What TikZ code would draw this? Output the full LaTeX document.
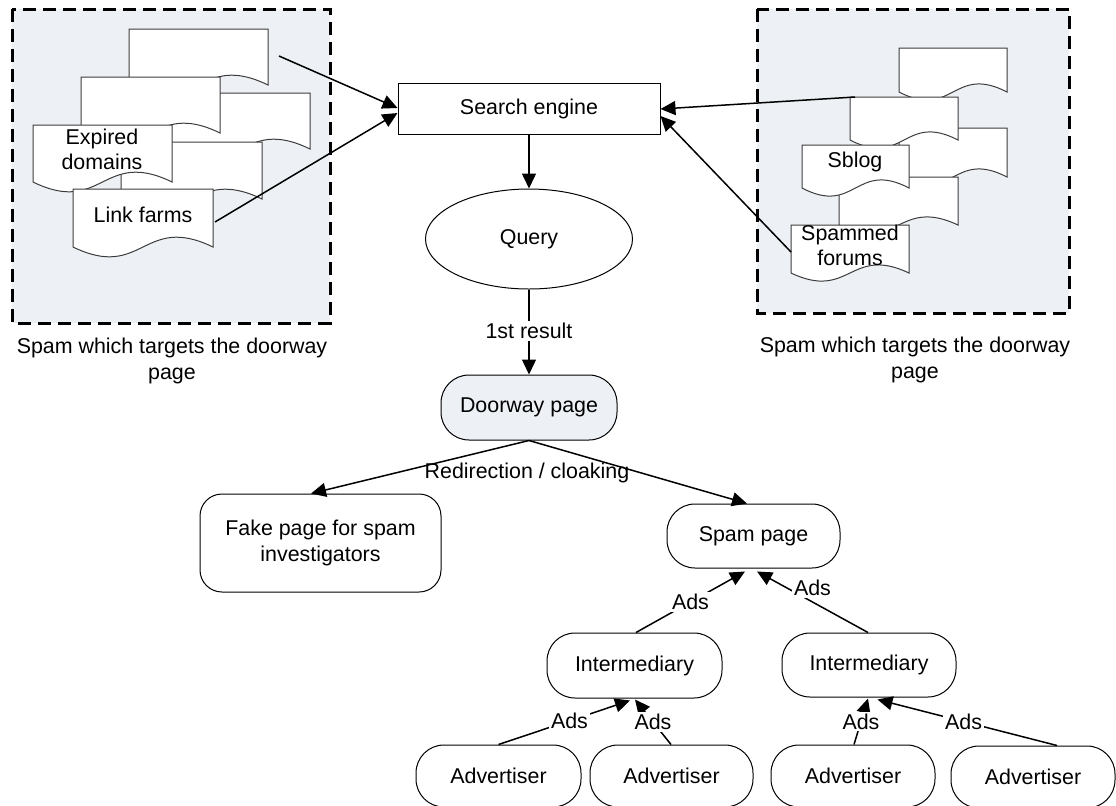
\documentclass[tikz,border=0pt]{standalone}
\usepackage{fontspec}
\setmainfont{Liberation Sans}
\usetikzlibrary{arrows.meta,calc,shapes.geometric}
\definecolor{panelfill}{RGB}{237,240,245}
\definecolor{docedge}{RGB}{60,60,60}
\tikzset{
  every node/.style={font=\fontsize{10.7}{12.6}\selectfont},
  arr/.style={line width=0.75pt, -{Triangle[length=7.5pt,width=7pt]}},
  panel/.style={draw, line width=1.5pt, dash pattern=on 6.5pt off 3.5pt, fill=panelfill},
  docline/.style={draw=docedge, line width=0.5pt, fill=white},
  docarea/.style={inner sep=0pt, outer sep=0pt},
  doctext/.style={align=center, inner sep=0pt},
  plainbox/.style={draw, line width=0.5pt, fill=white, align=center, inner sep=0pt},
  roundbox/.style={plainbox, rounded corners=14pt},
  lbl/.style={fill=white, inner sep=1pt},
  caption/.style={align=center, inner sep=0pt},
}
% document shape: top-left corner, bottom of the sides, depth of the wave
\newcommand\wavedoc[6]{%
  \draw[docline] (#2,#3) -- (#4,#3) -- (#4,#5)
    .. controls ({(#2+#4)/2},{#5-#6}) and ({(#2+#4)/2},{#5+#6}) .. (#2,#5) -- cycle;
  \node[docarea, minimum width={(#4-#2)*0.5pt}, minimum height={(#5-#3)*0.5pt}]
    (#1) at ({(#2+#4)/2},{(#3+#5)/2}) {};
}
\begin{document}
\begin{tikzpicture}[x=0.5pt,y=-0.5pt]
\useasboundingbox (0,0) rectangle (1116,805);
\clip (0,0) rectangle (1116,805);
\fill[white] (0,0) rectangle (1116,805);

% dashed panels
\draw[panel] (12,9) rectangle (330,323);
\draw[panel] (757,9) rectangle (1069,313);

% left stack of documents
\wavedoc{docA}{129}{29}{268}{85}{34}
\wavedoc{docC}{171}{93}{310}{149}{34}
\wavedoc{docB}{81}{77}{220}{133}{34}
\wavedoc{docE}{121}{142}{262}{199}{34}
\wavedoc{docD}{33}{125}{172}{182}{34}
\wavedoc{docF}{73}{189}{213}{247}{34}
\node[doctext] (expired) at (102,149) {Expired\\domains};
\node[doctext] (linkfarms) at (143,215) {Link farms};

% right stack of documents
\wavedoc{docRa}{899}{48}{1007}{92}{28}
\wavedoc{docRc}{899}{128}{1007}{177}{28}
\wavedoc{docRb}{850}{97}{958}{140}{28}
\wavedoc{docRe}{839}{177}{958}{225}{28}
\wavedoc{docRd}{802}{145}{909}{188}{28}
\wavedoc{docRf}{791}{225}{909}{273}{28}
\node[doctext] (sblog) at (855,162) {Sblog};
\node[doctext] (forums) at (850,245.5) {Spammed\\forums};

% captions
\node[caption] (capL) at (172,361) {Spam which targets the doorway\\page};
\node[caption] (capR) at (915,360) {Spam which targets the doorway\\page};

% main flow
\node[plainbox, minimum width=131pt, minimum height=25.5pt] (se) at (529,108.5) {Search engine};
\node[plainbox, ellipse, minimum width=103.5pt, minimum height=50pt] (query) at (529,239) {Query};
\node[roundbox, fill=panelfill, minimum width=88pt, minimum height=32.5pt] (door) at (529,407.5) {Doorway page};
\node[plainbox, rounded corners=11pt, minimum width=120.5pt, minimum height=49pt] (fake) at (320.5,543) {Fake page for spam\\investigators};
\node[roundbox, minimum width=86.5pt, minimum height=32pt] (spam) at (753.5,536) {Spam page};
\node[roundbox, minimum width=87.5pt, minimum height=32.5pt] (int1) at (634.5,665.5) {Intermediary};
\node[roundbox, minimum width=87pt, minimum height=32pt] (int2) at (869,665) {Intermediary};
\node[roundbox, minimum width=82.5pt, minimum height=31pt] (adv1) at (498.5,776) {Advertiser};
\node[roundbox, minimum width=81.5pt, minimum height=31pt] (adv2) at (671.5,776) {Advertiser};
\node[roundbox, minimum width=82pt, minimum height=31pt] (adv3) at (853,776) {Advertiser};
\node[roundbox, minimum width=82pt, minimum height=31pt] (adv4) at (1033,777) {Advertiser};

% links into the search engine
\draw[arr] ($(docA.east)+(11,-1)$) -- ($(se.west)+(0,-0.5)$);
\draw[arr] ($(docF.east)+(2,4)$) -- ($(se.west)+(0,4.5)$);
\draw[arr] ($(docRb.north west)+(5,0)$) -- ($(se.east)+(0,0.5)$);
\draw[arr] ($(docRf.west)+(0,3)$) -- ($(se.east)+(0,7.5)$);

% search flow
\draw[arr] (se.south) -- (query.north);
\draw[arr] (query.south) -- node[lbl, pos=0.49] (first) {1st result} (door.north);
\draw[arr] (door.south) -- ($(fake.north)+(-9.5,0)$);
\draw[arr] (door.south) -- ($(spam.north)+(-6.5,0)$);
\node[inner sep=0pt] (redir) at (527,473) {Redirection / cloaking};

% advertising chain
\draw[arr] ($(int1.north)+(1.5,0)$) -- node[lbl, pos=0.5] (adsA) {Ads} ($(spam.south)+(-8.5,3)$);
\draw[arr] ($(int2.north)+(-1,0)$) -- node[lbl, pos=0.5, yshift=7pt] (adsB) {Ads} ($(spam.south)+(3.5,3)$);
\draw[arr] (adv1.north) -- node[lbl, pos=0.54] (adsC) {Ads} ($(int1.south)+(-4.5,2)$);
\draw[arr] ($(adv2.north)+(-0.5,0)$) -- node[lbl, pos=0.5] (adsD) {Ads} ($(int1.south)+(0.5,1)$);
\draw[arr] ($(adv3.north)+(1,0)$) -- node[lbl, pos=0.5] (adsE) {Ads} ($(int2.south)+(-1,1)$);
\draw[arr] ($(adv4.north)+(24,0)$) -- node[lbl, pos=0.52] (adsF) {Ads} ($(int2.south)+(8.5,2)$);
\end{tikzpicture}
\end{document}
